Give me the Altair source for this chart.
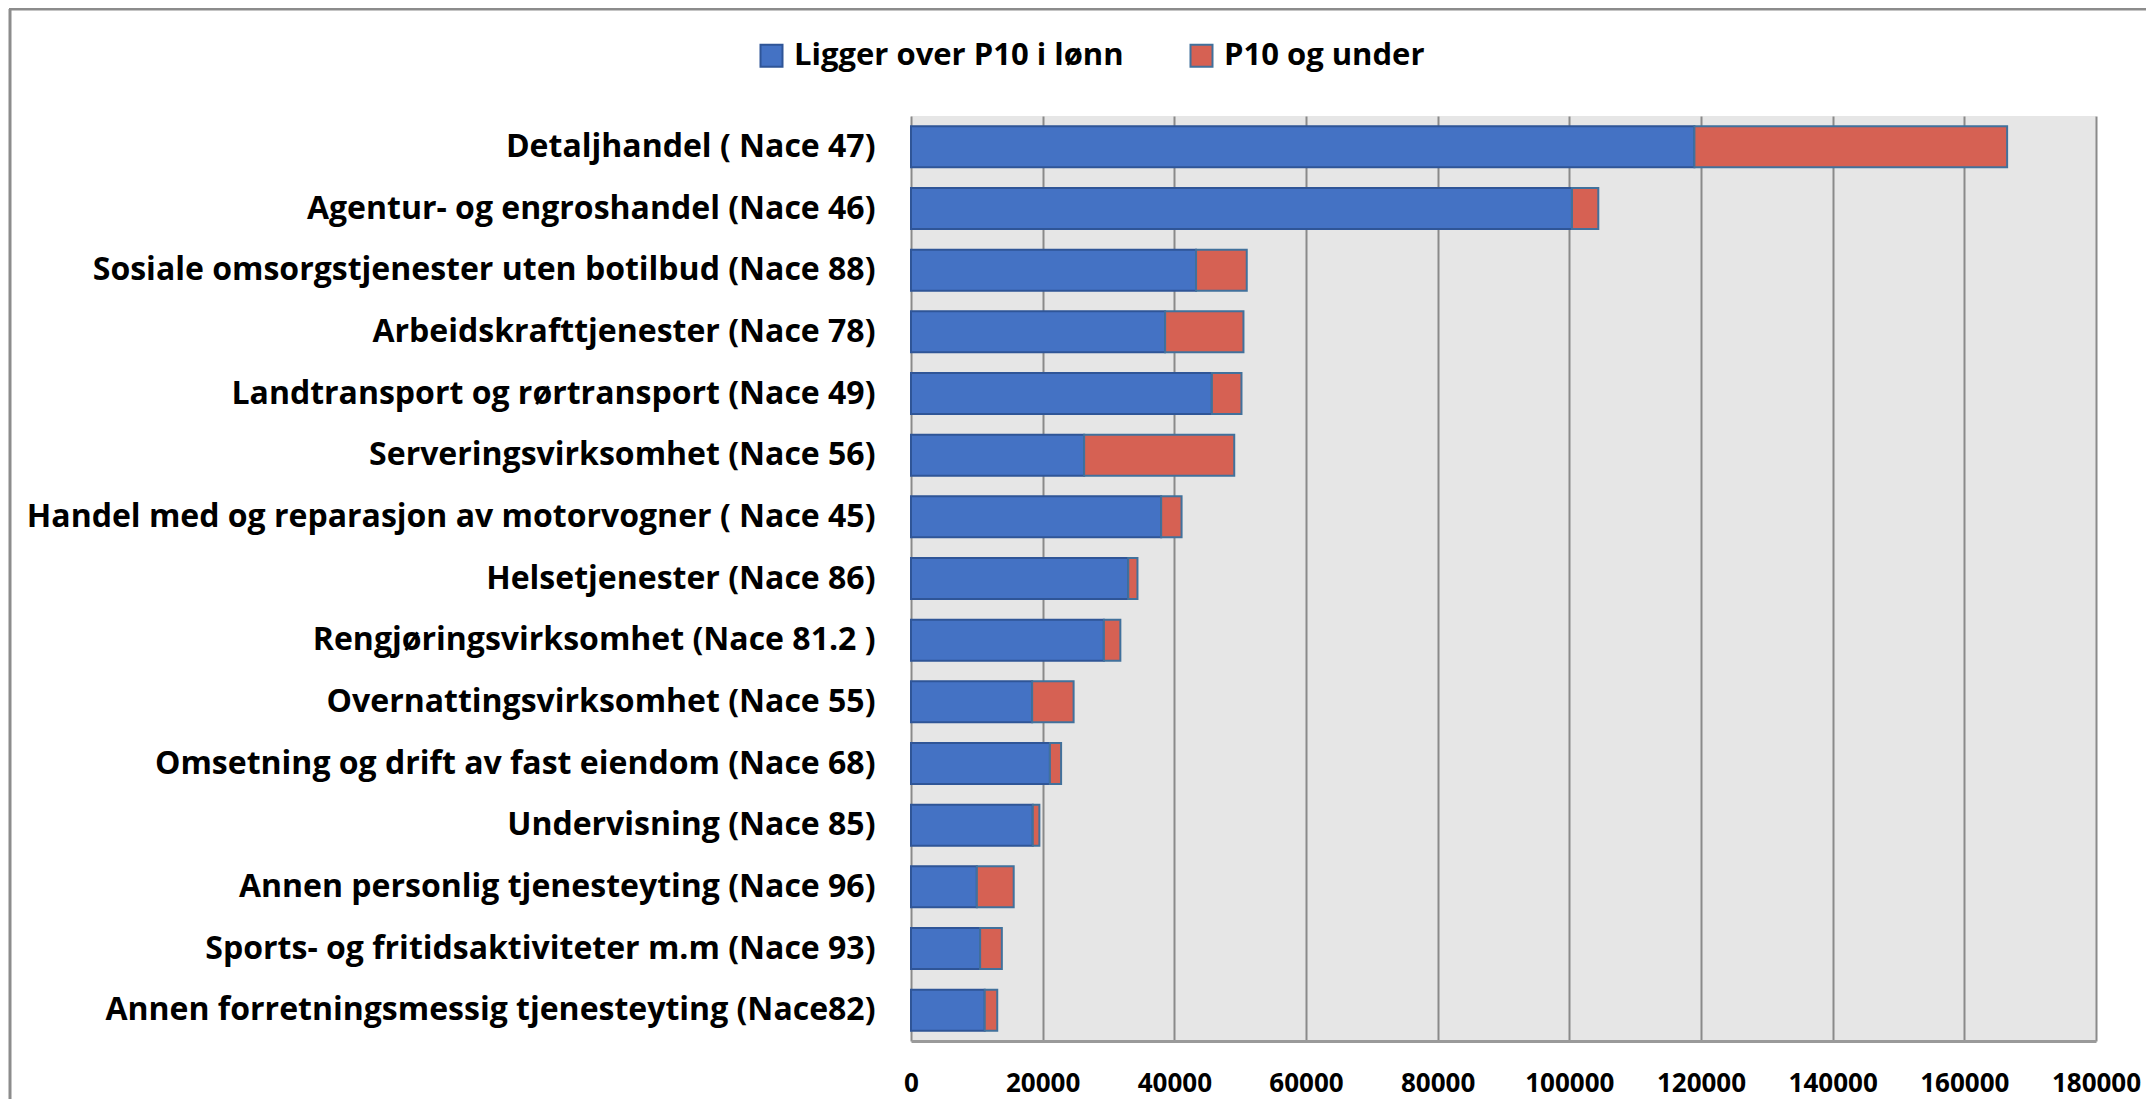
import altair as alt
import pandas as pd

categories = [
    "Detaljhandel ( Nace 47)",
    "Agentur- og engroshandel (Nace 46)",
    "Sosiale omsorgstjenester uten botilbud (Nace 88)",
    "Arbeidskrafttjenester (Nace 78)",
    "Landtransport og rørtransport (Nace 49)",
    "Serveringsvirksomhet (Nace 56)",
    "Handel med og reparasjon av motorvogner ( Nace 45)",
    "Helsetjenester (Nace 86)",
    "Rengjøringsvirksomhet (Nace  81.2 )",
    "Overnattingsvirksomhet (Nace 55)",
    "Omsetning og drift av fast eiendom (Nace 68)",
    "Undervisning (Nace 85)",
    "Annen personlig tjenesteyting (Nace 96)",
    "Sports- og fritidsaktiviteter m.m (Nace 93)",
    "Annen forretningsmessig tjenesteyting (Nace82)",
]
over_p10 = [119000, 100400, 43300, 38600, 45700, 26300, 38000, 33000,
            29300, 18400, 21100, 18500, 10000, 10500, 11200]
p10_under = [47500, 4000, 7700, 11900, 4500, 22800, 3100, 1400,
             2500, 6300, 1700, 1000, 5600, 3300, 1900]
series = ["Ligger over P10 i lønn", "P10 og under"]
x_ticks = [0, 20000, 40000, 60000, 80000, 100000, 120000, 140000, 160000, 180000]

fill_colors = ["#4472C4", "#D66153"]
stroke_colors = ["#2F5597", "#41719C"]
FONT = "Open Sans"

rows = []
for c, a, b in zip(categories, over_p10, p10_under):
    rows.append({"cat": c, "series": series[0], "value": a, "ord": 0})
    rows.append({"cat": c, "series": series[1], "value": b, "ord": 1})
df = pd.DataFrame(rows)

W, H = 1185, 925

bars = alt.Chart(df).mark_bar(strokeWidth=2).encode(
    y=alt.Y(
        "cat:N",
        sort=categories,
        scale=alt.Scale(paddingInner=0.335, paddingOuter=0.1675),
        axis=alt.Axis(
            title=None, labelFont=FONT, labelFontSize=32, labelFontWeight="bold",
            labelColor="black", labelPadding=36, ticks=False, domain=False,
            grid=False, labelLimit=900,
        ),
    ),
    x=alt.X(
        "value:Q",
        stack="zero",
        scale=alt.Scale(domain=[0, 180000], nice=False),
        axis=alt.Axis(
            title=None, values=x_ticks, format="d", labelFont=FONT,
            labelFontSize=26, labelFontWeight="bold", labelColor="black",
            labelPadding=42, labelBaseline="middle", ticks=False, tickSize=0,
            grid=True, gridColor="#8a8a8a", gridWidth=2, domainColor="#9a9a9a",
            domainWidth=3, labelFlush=False,
        ),
    ),
    color=alt.Color(
        "series:N",
        scale=alt.Scale(domain=series, range=fill_colors),
        legend=alt.Legend(
            title=None, orient="none", direction="horizontal",
            legendX=-155, legendY=-76, labelFont=FONT, labelFontSize=31,
            labelFontWeight="bold", labelColor="black", symbolType="square",
            symbolSize=484, symbolStrokeColor="#41719C", symbolStrokeWidth=2,
            columnPadding=62, labelOffset=7, labelLimit=800,
        ),
    ),
    stroke=alt.Stroke(
        "series:N", scale=alt.Scale(domain=series, range=stroke_colors), legend=None
    ),
    order=alt.Order("ord:Q"),
)

frame_df = pd.DataFrame({"k": [0]})
top_line = alt.Chart(frame_df).mark_rule(color="#8c8c8c", strokeWidth=3).encode(
    x=alt.value(-902), x2=alt.value(W + 50), y=alt.value(-107)
)
left_line = alt.Chart(frame_df).mark_rule(color="#8c8c8c", strokeWidth=3).encode(
    x=alt.value(-901), y=alt.value(-107), y2=alt.value(H + 60)
)

chart = alt.layer(bars, top_line, left_line).properties(
    width=W,
    height=H,
    autosize=alt.AutoSizeParams(type="none"),
    padding={"left": 903, "top": 108, "right": 50, "bottom": 58},
).configure_view(fill="#E6E6E6", strokeWidth=0)

chart.save("out.html", embed_options={"renderer": "svg", "actions": False})
